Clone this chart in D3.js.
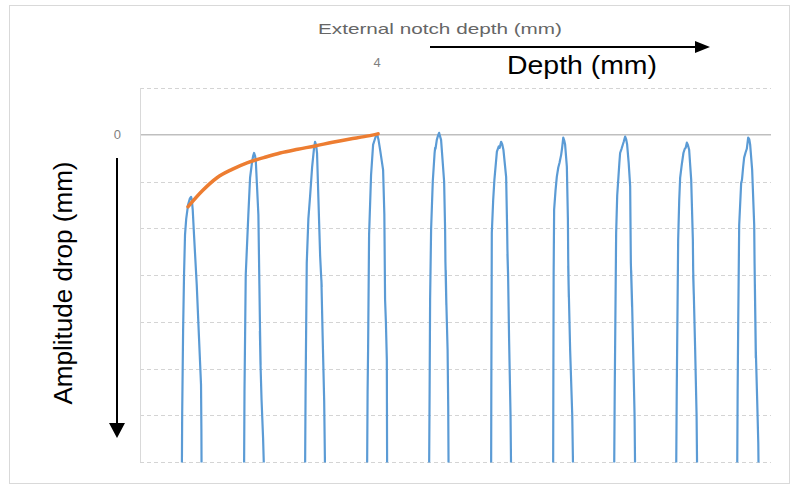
<!DOCTYPE html>
<html><head><meta charset="utf-8">
<script src="https://cdn.jsdelivr.net/npm/d3@7/dist/d3.min.js"></script>
<style>body{margin:0;background:#fff}svg{display:block}</style>
</head><body>
<svg id="chart" width="796" height="488"></svg>
<script>
// ---- data (depth in mm, amplitude drop in mm) ----
const depthDomain = [0.185, 10.36];
const ampDomain = [1, -7];
const gridValues = [1, -1, -2, -3, -4, -5, -6, -7];
const zeroLine = [0];
const topTickValues = [4];
const leftTickValues = [0];
const topTitle = "External notch depth (mm)";
const depthLabel = "Depth (mm)";
const ampLabel = "Amplitude drop (mm)";

const peak1 = [[0.86,-7.2],[0.865,-6],[0.88,-4.2],[0.895,-3.0],[0.911,-2.14],[0.93,-1.8],[0.96,-1.5],[0.99,-1.36],[1.008,-1.33],[1.02,-1.38],[1.035,-1.6],[1.056,-2.14],[1.10,-3.21],[1.135,-4.3],[1.169,-5.35],[1.175,-6.3],[1.178,-7.2]];
const peak2 = [[1.863,-7.2],[1.87,-5.5],[1.89,-3.0],[1.932,-1.71],[1.96,-0.92],[1.99,-0.6],[2.01,-0.45],[2.024,-0.39],[2.04,-0.45],[2.052,-0.55],[2.094,-1.71],[2.11,-3.2],[2.12,-4.13],[2.13,-4.92],[2.118,-4.2],[2.128,-4.9],[2.145,-5.67],[2.17,-6.5],[2.185,-7.2]];
const peak3 = [[2.847,-7.2],[2.855,-5.5],[2.874,-2.74],[2.90,-1.8],[2.927,-1.33],[2.96,-0.7],[2.99,-0.3],[3.008,-0.15],[3.025,-0.22],[3.04,-0.4],[3.061,-1.33],[3.09,-2.6],[3.105,-3.0],[3.115,-3.25],[3.11,-3.1],[3.13,-4.3],[3.155,-5.7],[3.169,-7.2]];
const peak4 = [[3.847,-7.2],[3.855,-5.5],[3.863,-4.6],[3.879,-2.14],[3.911,-0.86],[3.944,-0.21],[3.976,-0.08],[3.995,0.0],[4.008,0.02],[4.03,-0.1],[4.06,-0.35],[4.105,-0.75],[4.125,-1.7],[4.137,-3.53],[4.15,-4.0],[4.165,-4.8],[4.17,-7.2]];
const peak5 = [[4.847,-7.2],[4.855,-5.5],[4.863,-3.53],[4.879,-2.03],[4.906,-1.0],[4.935,-0.4],[4.944,-0.28],[4.95,-0.3],[4.971,-0.11],[4.99,-0.02],[5.008,0.04],[5.02,-0.02],[5.04,-0.11],[5.089,-1.0],[5.105,-2.03],[5.11,-2.72],[5.125,-3.64],[5.115,-2.9],[5.125,-3.6],[5.145,-4.6],[5.155,-5.8],[5.161,-7.2]];
const peak6 = [[5.847,-7.2],[5.85,-5.5],[5.858,-2.1],[5.88,-1.4],[5.90,-0.96],[5.94,-0.36],[5.97,-0.25],[5.985,-0.28],[6.008,-0.15],[6.025,-0.2],[6.045,-0.32],[6.089,-0.9],[6.105,-2.0],[6.11,-2.46],[6.12,-2.99],[6.11,-2.55],[6.12,-2.95],[6.137,-4.4],[6.16,-6.0],[6.169,-7.2]];
const peak7 = [[6.847,-7.2],[6.85,-5.5],[6.855,-3.0],[6.863,-1.6],[6.885,-1.2],[6.906,-0.9],[6.93,-0.7],[6.95,-0.6],[6.976,-0.43],[6.99,-0.3],[7.01,-0.06],[7.025,-0.12],[7.04,-0.21],[7.068,-0.68],[7.085,-1.8],[7.09,-2.67],[7.10,-3.47],[7.09,-2.8],[7.10,-3.4],[7.121,-4.6],[7.155,-6.0],[7.169,-7.2]];
const peak8 = [[7.831,-7.2],[7.84,-5.5],[7.863,-2.1],[7.88,-1.3],[7.90,-0.9],[7.915,-0.6],[7.927,-0.39],[7.95,-0.3],[7.985,-0.15],[8.008,-0.04],[8.025,-0.1],[8.04,-0.21],[8.065,-0.6],[8.089,-1.1],[8.095,-2.0],[8.10,-2.74],[8.12,-3.68],[8.105,-2.9],[8.12,-3.6],[8.137,-4.6],[8.16,-6.0],[8.169,-7.2]];
const peak9 = [[8.831,-7.2],[8.84,-5.5],[8.863,-2.25],[8.88,-1.4],[8.895,-0.92],[8.92,-0.65],[8.948,-0.39],[8.97,-0.3],[8.985,-0.28],[9.003,-0.17],[9.02,-0.22],[9.04,-0.32],[9.073,-0.96],[9.10,-2.25],[9.105,-2.89],[9.115,-3.42],[9.105,-3.0],[9.115,-3.4],[9.137,-4.6],[9.16,-6.0],[9.169,-7.2]];
const peak10 = [[9.815,-7.2],[9.822,-5.5],[9.831,-4.06],[9.847,-1.93],[9.879,-1.03],[9.89,-0.98],[9.895,-0.92],[9.91,-0.7],[9.927,-0.49],[9.95,-0.38],[9.97,-0.3],[9.992,-0.06],[10.01,-0.1],[10.024,-0.21],[10.056,-0.75],[10.089,-1.93],[10.095,-2.74],[10.115,-4.77],[10.10,-3.2],[10.115,-4.6],[10.137,-5.67],[10.155,-6.6],[10.16,-7.2]];
const notchTrend = [[0.96,-1.54],[1.19,-1.2],[1.427,-0.92],[1.67,-0.74],[1.911,-0.60],[2.18,-0.49],[2.444,-0.39],[2.73,-0.31],[3.008,-0.24],[3.29,-0.16],[3.573,-0.09],[3.80,-0.04],[4.024,0.02]];

const signal = [].concat(peak1, peak2, peak3, peak4, peak5, peak6, peak7, peak8, peak9, peak10);

// ---- layout ----
const svg = d3.select("#chart");
const L = 140, R = 771, T = 88, B = 462;
const x = d3.scaleLinear().domain(depthDomain).range([L, R]);
const y = d3.scaleLinear().domain(ampDomain).range([T, B]);
const font = "'Liberation Sans', Arial, sans-serif";

svg.append("rect").attr("x", 9.5).attr("y", 5.5).attr("width", 780).attr("height", 478)
  .attr("fill", "#fff").attr("stroke", "#d9d9d9").attr("stroke-width", 1);

// grid
svg.append("g").selectAll("line").data(gridValues).join("line")
  .attr("x1", L).attr("x2", R).attr("y1", d => Math.round(y(d)) + 0.5).attr("y2", d => Math.round(y(d)) + 0.5)
  .attr("stroke", "#d4d4d4").attr("stroke-width", 1).attr("stroke-dasharray", "4,3");
svg.append("g").selectAll("line").data(zeroLine).join("line")
  .attr("x1", L).attr("x2", R).attr("y1", d => y(d)).attr("y2", d => y(d))
  .attr("stroke", "#bfbfbf").attr("stroke-width", 1.5);
svg.append("line").attr("x1", L + 0.5).attr("x2", L + 0.5).attr("y1", T).attr("y2", B)
  .attr("stroke", "#d9d9d9").attr("stroke-width", 1);

// axes tick labels
const topAxis = svg.append("g").attr("transform", `translate(0,${T})`)
  .call(d3.axisTop(x).tickValues(topTickValues).tickSize(0).tickPadding(21).tickFormat(d3.format("d")));
topAxis.select(".domain").remove();
topAxis.selectAll("text").attr("font-family", font).attr("font-size", 13).attr("fill", "#7f7f7f");

const leftAxis = svg.append("g").attr("transform", `translate(${L},0)`)
  .call(d3.axisLeft(y).tickValues(leftTickValues).tickSize(0).tickPadding(19).tickFormat(d3.format("d")));
leftAxis.select(".domain").remove();
leftAxis.selectAll("text").attr("font-family", font).attr("font-size", 13).attr("fill", "#7f7f7f");

// clip
svg.append("clipPath").attr("id", "plotClip").append("rect")
  .attr("x", L).attr("y", T - 5).attr("width", R - L).attr("height", B - T + 5.5);

const line = d3.line().x(d => x(d[0])).y(d => y(d[1]));
svg.append("path").datum(signal).attr("d", line).attr("clip-path", "url(#plotClip)")
  .attr("fill", "none").attr("stroke", "#5b9bd5").attr("stroke-width", 2.2).attr("stroke-linejoin", "round");

const curve = d3.line().x(d => x(d[0])).y(d => y(d[1])).curve(d3.curveMonotoneX);
svg.append("path").datum(notchTrend).attr("d", curve)
  .attr("fill", "none").attr("stroke", "#ed7d31").attr("stroke-width", 3.5).attr("stroke-linecap", "round");

// titles
svg.append("text").attr("x", 440).attr("y", 34).attr("text-anchor", "middle")
  .attr("font-family", font).attr("font-size", 15).attr("fill", "#666")
  .attr("textLength", 244).attr("lengthAdjust", "spacingAndGlyphs").text(topTitle);
svg.append("text").attr("x", 582).attr("y", 74).attr("text-anchor", "middle")
  .attr("font-family", font).attr("font-size", 25).attr("fill", "#000")
  .attr("textLength", 150).attr("lengthAdjust", "spacingAndGlyphs").text(depthLabel);
svg.append("text").attr("transform", "translate(72,283) rotate(-90)").attr("text-anchor", "middle")
  .attr("font-family", font).attr("font-size", 26).attr("fill", "#000")
  .attr("textLength", 243).attr("lengthAdjust", "spacingAndGlyphs").text(ampLabel);

// arrows
svg.append("line").attr("x1", 430).attr("x2", 697).attr("y1", 47).attr("y2", 47)
  .attr("stroke", "#000").attr("stroke-width", 2);
svg.append("path").attr("d", "M695,41 L710,47 L695,53 Z").attr("fill", "#000");
svg.append("line").attr("x1", 117).attr("x2", 117).attr("y1", 158).attr("y2", 425)
  .attr("stroke", "#000").attr("stroke-width", 2);
svg.append("path").attr("d", "M109,423 L125,423 L117,438 Z").attr("fill", "#000");
</script>
</body></html>
